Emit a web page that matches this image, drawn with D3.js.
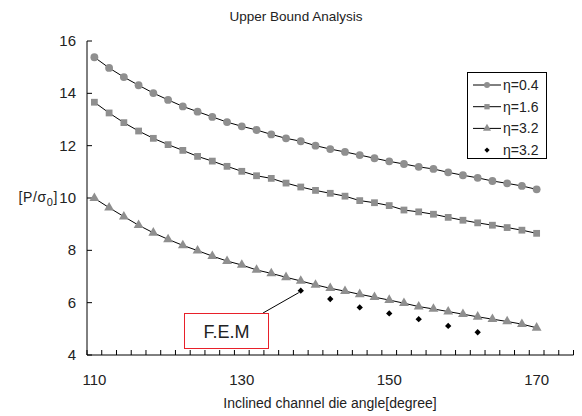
<!DOCTYPE html>
<html lang="en">
<head>
    <meta charset="UTF-8">
    <title>Upper Bound Analysis</title>
    <script src="https://cdn.jsdelivr.net/npm/d3@7"></script>
    <style>
        body { margin: 0; background: #fff; }
        svg text { font-family: "Liberation Sans", Arial, sans-serif; fill: #222; }
    </style>
</head>
<body>
<div id="chart"></div>
<script>
    // angles (degrees), one point every 2 degrees
    const angles = d3.range(110, 171, 2);
    const eta04 = [15.38, 14.97, 14.62, 14.31, 14.01, 13.75, 13.50, 13.30, 13.10, 12.90, 12.74,
        12.60, 12.43, 12.28, 12.17, 12.00, 11.87, 11.76, 11.64, 11.52, 11.40,
        11.30, 11.19, 11.11, 10.98, 10.87, 10.77, 10.65, 10.56, 10.46, 10.33];
    const eta16 = [13.66, 13.25, 12.88, 12.56, 12.28, 12.04, 11.82, 11.59, 11.41, 11.21, 11.02,
        10.85, 10.75, 10.57, 10.42, 10.29, 10.18, 10.07, 9.90, 9.82, 9.71,
        9.54, 9.47, 9.38, 9.26, 9.15, 9.05, 8.96, 8.87, 8.77, 8.65];
    const eta32 = [9.99, 9.63, 9.29, 8.96, 8.67, 8.42, 8.19, 7.99, 7.78, 7.59, 7.44,
        7.25, 7.12, 6.97, 6.83, 6.68, 6.55, 6.44, 6.32, 6.21, 6.10,
        5.98, 5.85, 5.76, 5.66, 5.56, 5.46, 5.37, 5.28, 5.18, 5.04];
    const femAngles = [138, 142, 146, 150, 154, 158, 162];
    const femValues = [6.46, 6.14, 5.82, 5.59, 5.37, 5.11, 4.87];
    const xLabels = [110, 130, 150, 170];
    const yTicks = [4, 6, 8, 10, 12, 14, 16];

    const width = 582, height = 416;
    const grey = "#8f8f8f";

    const svg = d3.select("#chart").append("svg")
        .attr("width", width)
        .attr("height", height);

    const x = d3.scaleLinear().domain([109, 175]).range([87, 573.5]);
    const y = d3.scaleLinear().domain([4, 16]).range([355, 41]);

    // title
    svg.append("text")
        .attr("x", 296).attr("y", 21)
        .attr("text-anchor", "middle")
        .style("font-size", "13.5px")
        .text("Upper Bound Analysis");

    // y axis
    svg.append("line")
        .attr("x1", x(109)).attr("x2", x(109))
        .attr("y1", y(16)).attr("y2", y(4))
        .attr("stroke", "#000");
    svg.selectAll(".ytick").data(yTicks).enter().append("line")
        .attr("x1", x(109)).attr("x2", x(109) + 5)
        .attr("y1", d => y(d)).attr("y2", d => y(d))
        .attr("stroke", "#000");
    svg.selectAll(".ylab").data(yTicks).enter().append("text")
        .attr("x", 76).attr("y", d => y(d) + 5)
        .attr("text-anchor", "end")
        .style("font-size", "15px")
        .text(d => d);

    const ylab = svg.append("text")
        .attr("x", 58).attr("y", y(10) + 4)
        .attr("text-anchor", "end")
        .style("font-size", "14px")
        .style("letter-spacing", "0.6px");
    ylab.append("tspan").text("[P/σ");
    ylab.append("tspan").attr("dy", 4).style("font-size", "11px").text("0");
    ylab.append("tspan").attr("dy", -4).text("]");

    // x axis
    svg.append("line")
        .attr("x1", x(109)).attr("x2", x(175))
        .attr("y1", y(4)).attr("y2", y(4))
        .attr("stroke", "#000");
    svg.selectAll(".xtick").data(d3.range(109, 176, 2)).enter().append("line")
        .attr("x1", d => x(d)).attr("x2", d => x(d))
        .attr("y1", y(4)).attr("y2", y(4) - 5)
        .attr("stroke", "#000");
    svg.selectAll(".xlab").data(xLabels).enter().append("text")
        .attr("x", d => x(d)).attr("y", 385)
        .attr("text-anchor", "middle")
        .style("font-size", "15px")
        .text(d => d);
    svg.append("text")
        .attr("x", 330).attr("y", 408)
        .attr("text-anchor", "middle")
        .style("font-size", "14px")
        .text("Inclined channel die angle[degree]");

    // series
    const line = d3.line().x(d => x(d[0])).y(d => y(d[1]));
    const series = [
        { name: "η=0.4", values: eta04, symbol: d3.symbolCircle, size: 48 },
        { name: "η=1.6", values: eta16, symbol: d3.symbolSquare, size: 46 },
        { name: "η=3.2", values: eta32, symbol: d3.symbolTriangle, size: 42 }
    ];

    series.forEach(s => {
        const pts = angles.map((a, i) => [a, s.values[i]]);
        svg.append("path")
            .attr("d", line(pts))
            .attr("fill", "none")
            .attr("stroke", "#000")
            .attr("stroke-width", 1);
        svg.append("g").selectAll("path").data(pts).enter().append("path")
            .attr("d", d3.symbol().type(s.symbol).size(s.size))
            .attr("transform", d => `translate(${x(d[0])},${y(d[1])})`)
            .attr("fill", grey);
    });

    // F.E.M points (square diamonds)
    svg.append("g").selectAll("path").data(femAngles.map((a, i) => [a, femValues[i]]))
        .enter().append("path")
        .attr("d", d3.symbol().type(d3.symbolSquare).size(20))
        .attr("transform", d => `translate(${x(d[0])},${y(d[1])}) rotate(45)`)
        .attr("fill", "#000");

    // F.E.M callout
    svg.append("line")
        .attr("x1", 263).attr("y1", 313)
        .attr("x2", x(femAngles[0]) - 2).attr("y2", y(femValues[0]) + 2)
        .attr("stroke", "#000");
    svg.append("rect")
        .attr("x", 184.5).attr("y", 313.5)
        .attr("width", 84).attr("height", 35)
        .attr("fill", "#fff")
        .attr("stroke", "#e8202a");
    svg.append("text")
        .attr("x", 226.5).attr("y", 338)
        .attr("text-anchor", "middle")
        .style("font-size", "18px")
        .text("F.E.M");

    // legend
    const legend = svg.append("g");
    legend.append("rect")
        .attr("x", 467.5).attr("y", 72.5)
        .attr("width", 79).attr("height", 86)
        .attr("fill", "#fff")
        .attr("stroke", "#000");
    const legendItems = series.concat([{ name: "η=3.2", symbol: d3.symbolSquare, fem: true }]);
    legendItems.forEach((s, i) => {
        const ly = 85 + i * 21.7;
        if (!s.fem) {
            legend.append("line")
                .attr("x1", 473).attr("x2", 501)
                .attr("y1", ly).attr("y2", ly)
                .attr("stroke", "#000");
        }
        legend.append("path")
            .attr("d", d3.symbol().type(s.symbol).size(s.fem ? 14 : 28))
            .attr("transform", `translate(487,${ly})` + (s.fem ? " rotate(45)" : ""))
            .attr("fill", s.fem ? "#000" : grey);
        legend.append("text")
            .attr("x", 503).attr("y", ly + 5)
            .style("font-size", "14px")
            .text(s.name);
    });
</script>
</body>
</html>
